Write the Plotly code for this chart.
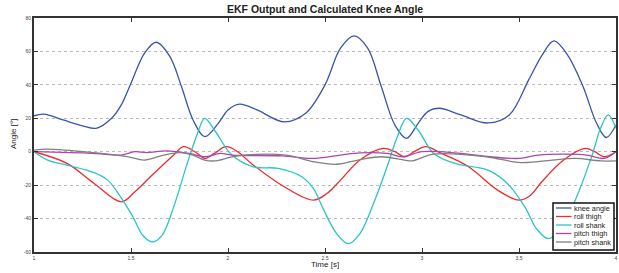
import plotly.graph_objects as go

# ---- data ----
knee_t = [1.0, 1.05, 1.15, 1.25, 1.32, 1.40, 1.45, 1.50, 1.57, 1.63, 1.70, 1.76, 1.82, 1.88,
          1.95, 2.00, 2.06, 2.15, 2.29, 2.40, 2.50, 2.58, 2.65, 2.72, 2.79, 2.86, 2.92,
          2.98, 3.03, 3.09, 3.20, 3.34, 3.45, 3.55, 3.62, 3.68, 3.75, 3.83, 3.90, 3.95, 4.0]
knee_v = [21.5, 22.5, 19, 15.5, 14, 20, 28, 41, 59, 65.5, 57, 39, 19, 9,
          17, 25, 28.5, 25, 17.8, 23, 40, 62, 69.3, 62, 39, 16, 8,
          17, 24, 26, 22, 17.2, 22, 43, 58, 66.3, 58, 39, 17, 8.5, 16]

rshank_t = [1.0, 1.07, 1.17, 1.31, 1.38, 1.44, 1.51, 1.56, 1.61, 1.66, 1.72, 1.79, 1.84, 1.88,
            1.93, 2.02, 2.13, 2.26, 2.38, 2.44, 2.49, 2.56, 2.62, 2.68, 2.75, 2.82, 2.87, 2.92,
            2.98, 3.06, 3.17, 3.34, 3.44, 3.53, 3.59, 3.65, 3.71, 3.79, 3.88, 3.92, 3.96, 4.0]
rshank_v = [0, -5, -8, -12.5, -17, -26, -39, -50, -54, -50, -33, -7, 10, 20,
            13, -2, -9, -10, -15, -22, -34, -49, -55, -49, -31, -9, 8, 20,
            13, -1, -7, -11, -19, -33, -46, -52, -47, -29, -1, 14, 22, 14]

rthigh_t = [1.0, 1.17, 1.31, 1.45, 1.52, 1.60, 1.72, 1.77, 1.83, 1.88, 1.93, 1.99, 2.05,
            2.12, 2.29, 2.44, 2.51, 2.58, 2.68, 2.80, 2.86, 2.91, 2.96, 3.02, 3.10,
            3.24, 3.39, 3.50, 3.56, 3.61, 3.73, 3.84, 3.89, 3.94, 4.0]
rthigh_v = [0, -7, -19, -30, -24, -15, -2, 3, 0, -4, -1, 3, 0,
            -7, -21, -29, -25, -17, -5, 2, 0, -3, 0, 3, -1,
            -9, -23, -29, -26, -19, -5, 2, 0, -3, 0]

pthigh_t = [1.0, 1.30, 1.45, 1.52, 1.58, 1.68, 1.80, 1.88, 1.96, 2.02, 2.28, 2.43, 2.58,
            2.68, 2.82, 2.90, 3.00, 3.20, 3.35, 3.50, 3.60, 3.74, 3.85, 3.94, 4.0]
pthigh_v = [0, -1, -2, 0, -0.5, 0.5, -1, -3, -1, -2, -2.5, -4, -2,
            -0.7, -1, -3, 0, -1, -3, -4, -2, -1.5, -2, -4, 0]

pshank_t = [1.0, 1.07, 1.25, 1.48, 1.57, 1.67, 1.75, 1.82, 1.88, 1.93, 2.05, 2.30, 2.44,
            2.56, 2.67, 2.79, 2.91, 2.95, 3.06, 3.33, 3.51, 3.67, 3.79, 3.92, 4.0]
pshank_v = [1, 1.5, 0, -3, -5, -2, -0.5, -2, -5, -5.5, -2.5, -2, -6,
            -7.5, -5, -3, -5, -5.5, -1.5, -3, -6.5, -5, -4, -5.5, -5.5]

x_ticks = [1, 1.5, 2, 2.5, 3, 3.5, 4]
x_ticktext = ["1", "1.5", "2", "2.5", "3", "3.5", "4"]
y_ticks = [-60, -40, -20, 0, 20, 40, 60, 80]
y_ticktext = ["-60", "-40", "-20", "0", "20", "40", "60", "80"]

series_names = ["knee angle", "roll thigh", "roll shank", "pitch thigh", "pitch shank"]
series_t = [knee_t, rthigh_t, rshank_t, pthigh_t, pshank_t]
series_v = [knee_v, rthigh_v, rshank_v, pthigh_v, pshank_v]
series_colors = ["#3A55A8", "#EE2A2A", "#2CC4C4", "#B044B0", "#808080"]

# ---- layout geometry (pixels) ----
W, H = 619, 273
L, R, T, B = 34, 616, 18, 252
pw, ph = R - L, B - T


def px_x(px):
    return (px - L) / pw


def px_y(py):
    return (B - py) / ph


fig = go.Figure()
for name, t, v, c in zip(series_names, series_t, series_v, series_colors):
    fig.add_trace(go.Scatter(x=t, y=v, name=name, mode="lines", showlegend=False,
                             line=dict(color=c, width=1.3, shape="spline", smoothing=1.0)))

shapes = []
annotations = []

# custom compact legend box (as MATLAB draws it)
lg_x0, lg_x1, lg_y0, lg_y1 = 553, 614, 203, 250
shapes.append(dict(type="rect", xref="paper", yref="paper",
                   x0=px_x(lg_x0), x1=px_x(lg_x1), y0=px_y(lg_y1), y1=px_y(lg_y0),
                   fillcolor="white", line=dict(color="#111", width=1.5), layer="above"))
row_y = [208, 216.5, 225, 233.5, 242]
for name, c, ry in zip(series_names, series_colors, row_y):
    shapes.append(dict(type="line", xref="paper", yref="paper",
                       x0=px_x(556), x1=px_x(571.5), y0=px_y(ry), y1=px_y(ry),
                       line=dict(color=c, width=1.3), layer="above"))
    annotations.append(dict(text=name, xref="paper", yref="paper",
                            x=px_x(572), y=px_y(ry), xanchor="left", yanchor="middle",
                            showarrow=False, font=dict(size=7.3, color="#222")))

# title and axis labels
annotations.append(dict(text="<b>EKF Output and Calculated Knee Angle</b>",
                        xref="paper", yref="paper", x=px_x(325), y=px_y(9.5),
                        xanchor="center", yanchor="middle", showarrow=False,
                        font=dict(size=10.5, color="#222")))
annotations.append(dict(text="Time [s]", xref="paper", yref="paper",
                        x=px_x(325), y=px_y(264.5), xanchor="center", yanchor="middle",
                        showarrow=False, font=dict(size=8, color="#222")))
annotations.append(dict(text="Angle [°]", xref="paper", yref="paper",
                        x=px_x(13), y=px_y(134), xanchor="center", yanchor="middle",
                        textangle=-90, showarrow=False, font=dict(size=8, color="#222")))

fig.update_layout(
    width=W, height=H,
    margin=dict(l=L, r=W - R, t=T, b=H - B, autoexpand=False),
    paper_bgcolor="white", plot_bgcolor="white",
    font=dict(family="Liberation Sans, Arial, sans-serif", color="#222"),
    showlegend=False,
    shapes=shapes,
    annotations=annotations,
)
fig.update_xaxes(range=[1, 4], tickvals=x_ticks, ticktext=x_ticktext,
                 showgrid=False, zeroline=False, automargin=False,
                 showline=True, linecolor="#333", linewidth=2, mirror="ticks",
                 ticks="inside", ticklen=4, tickcolor="#333",
                 tickfont=dict(size=5, color="#444"))
fig.update_yaxes(range=[-60, 80], tickvals=y_ticks, ticktext=y_ticktext,
                 showgrid=True, gridcolor="#BBBBBB", griddash="dot", gridwidth=1,
                 zeroline=False, automargin=False,
                 showline=True, linecolor="#333", linewidth=2, mirror="ticks",
                 ticks="inside", ticklen=4, tickcolor="#333",
                 tickfont=dict(size=5, color="#444"))

fig.write_html("out.html", config={"displayModeBar": False},
               post_script="document.body.style.margin='0';document.body.style.padding='0';")
